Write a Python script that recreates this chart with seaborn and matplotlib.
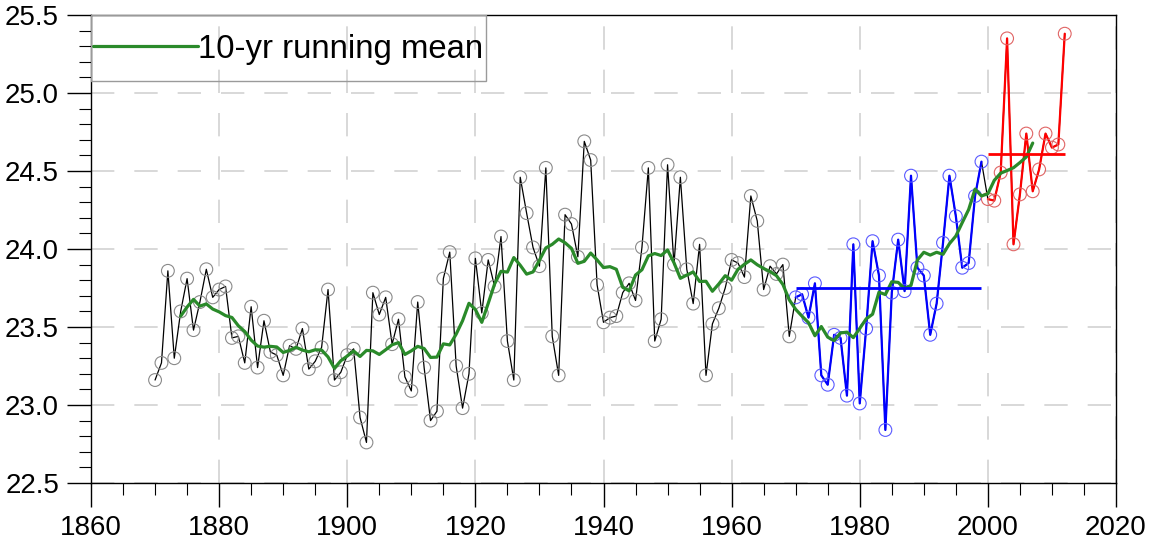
import numpy as np
import pandas as pd
import matplotlib
matplotlib.use("Agg")
import matplotlib.pyplot as plt
import matplotlib.patches as mpatches
import seaborn as sns
from matplotlib.ticker import MultipleLocator, FormatStrFormatter

# ---- data ----
years_early = list(range(1870, 1970))
temp_early = [
    23.16, 23.27, 23.86, 23.30, 23.60, 23.81, 23.48, 23.66, 23.87, 23.69,   # 1870s
    23.74, 23.76, 23.43, 23.44, 23.27, 23.63, 23.24, 23.54, 23.34, 23.32,   # 1880s
    23.19, 23.38, 23.36, 23.49, 23.23, 23.28, 23.37, 23.74, 23.16, 23.21,   # 1890s
    23.32, 23.36, 22.92, 22.76, 23.72, 23.58, 23.69, 23.39, 23.55, 23.18,   # 1900s
    23.09, 23.66, 23.24, 22.90, 22.96, 23.81, 23.98, 23.25, 22.98, 23.20,   # 1910s
    23.94, 23.59, 23.93, 23.76, 24.08, 23.41, 23.16, 24.46, 24.23, 24.01,   # 1920s
    23.89, 24.52, 23.44, 23.19, 24.22, 24.16, 23.95, 24.69, 24.57, 23.77,   # 1930s
    23.53, 23.56, 23.57, 23.72, 23.78, 23.67, 24.01, 24.52, 23.41, 23.55,   # 1940s
    24.54, 23.90, 24.46, 23.87, 23.65, 24.03, 23.19, 23.52, 23.62, 23.75,   # 1950s
    23.93, 23.91, 23.82, 24.34, 24.18, 23.74, 23.89, 23.84, 23.90, 23.44,   # 1960s
]
years_mid = list(range(1970, 2000))
temp_mid = [
    23.69, 23.71, 23.56, 23.78, 23.19, 23.13, 23.45, 23.43, 23.06, 24.03,
    23.01, 23.49, 24.05, 23.83, 22.84, 23.72, 24.06, 23.73, 24.47, 23.88,
    23.83, 23.45, 23.65, 24.04, 24.47, 24.21, 23.88, 23.91, 24.34, 24.56,
]
years_late = list(range(2000, 2013))
temp_late = [
    24.32, 24.31, 24.49, 25.35, 24.03, 24.35, 24.74, 24.37, 24.51, 24.74,
    24.65, 24.67, 25.38,
]
legend_label = "10-yr running mean"
x_ticks = [1860, 1880, 1900, 1920, 1940, 1960, 1980, 2000, 2020]
y_ticks = [22.5, 23.0, 23.5, 24.0, 24.5, 25.0, 25.5]

# ---- derived ----
years_all = years_early + years_mid + years_late
temp_all = temp_early + temp_mid + temp_late
df = pd.DataFrame({"year": years_all, "temp": temp_all})
df["run"] = df["temp"].rolling(10).mean().shift(-5)
mean_mid = float(np.mean(temp_mid))
mean_late = float(np.mean(temp_late))

# ---- style ----
sns.set_theme(style="white")
plt.rcParams["font.family"] = ["Liberation Sans", "DejaVu Sans"]
plt.rcParams["text.color"] = "black"

W, H = 1155, 543
AX_L, AX_R, AX_T, AX_B = 91, 1116, 15, 483
AW, AH = AX_R - AX_L, AX_B - AX_T
fig = plt.figure(figsize=(W / 100, H / 100), dpi=100)
ax = fig.add_axes([AX_L / W, 1 - AX_B / H, AW / W, AH / H])

# black full series
sns.lineplot(x="year", y="temp", data=df, color="black", lw=0.9, ax=ax,
             zorder=3, estimator=None)
ax.scatter(years_early, temp_early, s=85, facecolors="none",
           edgecolors="#8a8a8a", linewidths=0.8, zorder=4)

# blue segment
sns.lineplot(x=years_mid, y=temp_mid, color="#0000ff", lw=1.6, ax=ax,
             zorder=5, estimator=None)
ax.scatter(years_mid, temp_mid, s=85, facecolors="none",
           edgecolors="#5a5aff", linewidths=0.8, zorder=5)

# red segment
sns.lineplot(x=years_late, y=temp_late, color="#ff0000", lw=1.6, ax=ax,
             zorder=5, estimator=None)
ax.scatter(years_late, temp_late, s=85, facecolors="none",
           edgecolors="#e06464", linewidths=0.8, zorder=5)

# running mean
sns.lineplot(x="year", y="run", data=df.dropna(), color="#2a8a2a", lw=2.3,
             ax=ax, zorder=6, estimator=None, label=legend_label)

# period means
ax.hlines(mean_mid, years_mid[0], years_mid[-1], color="#0000ff", lw=2.0, zorder=7)
ax.hlines(mean_late, years_late[0], years_late[-1], color="#ff0000", lw=2.0, zorder=7)

# ---- axes ----
ax.set_xlim(1860, 2020)
ax.set_ylim(22.5, 25.5)
ax.set_xticks(x_ticks)
ax.set_yticks(y_ticks)
ax.xaxis.set_minor_locator(MultipleLocator(5))
ax.yaxis.set_minor_locator(MultipleLocator(0.1))
ax.yaxis.set_major_formatter(FormatStrFormatter("%.1f"))
ax.set_xlabel("")
ax.set_ylabel("")

ax.tick_params(axis="both", which="major", direction="out", length=17,
               width=1, colors="black", labelsize=20, pad=6,
               left=True, bottom=True, right=False, top=False)
ax.tick_params(axis="both", which="minor", direction="out", length=8.5,
               width=0.8, colors="black", left=True, bottom=True,
               right=False, top=False)

for s in ax.spines.values():
    s.set_color("black")
    s.set_linewidth(1.0)
    s.set_visible(True)

ax.grid(True, which="major", color="#d2d2d2", linestyle=(0, (14, 12)), lw=1.2)
ax.set_axisbelow(True)

# legend: entry placed inside a hand-sized frame
leg = ax.legend(loc="upper left", bbox_to_anchor=(2 / AW, 1 - 19 / AH),
                borderaxespad=0, borderpad=0, fontsize=23.7,
                handlelength=3.2, handletextpad=0.0, frameon=False)
for t in leg.get_texts():
    t.set_color("black")
for line in leg.get_lines():
    line.set_linewidth(2.3)
frame = mpatches.Rectangle((0, 1 - 66 / AH), 395 / AW, 66 / AH,
                           transform=ax.transAxes, fill=False,
                           edgecolor="#9a9a9a", lw=1.0, zorder=8)
ax.add_patch(frame)

fig.savefig("out.png", dpi=100)
